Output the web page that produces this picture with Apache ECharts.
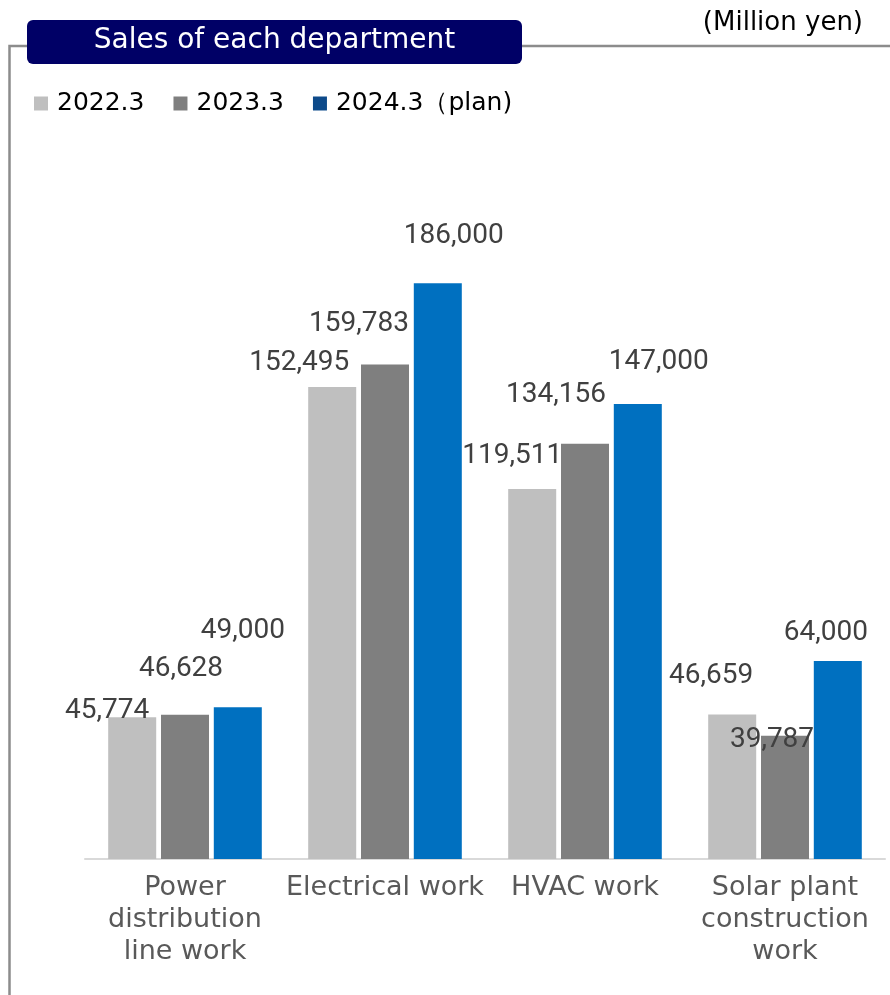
<!DOCTYPE html>
<html>
<head>
<meta charset="utf-8">
<title>Sales of each department</title>
<script src="https://cdn.jsdelivr.net/npm/echarts@6/dist/echarts.min.js"></script>
<style>
  html, body { margin: 0; padding: 0; background: #ffffff; }
  #chart { width: 890px; height: 995px; }
</style>
</head>
<body>
<div id="chart"></div>
<script>
// ---- data (million yen) ----
const categories = ['Power\ndistribution\nline work', 'Electrical work', 'HVAC work', 'Solar plant\nconstruction\nwork'];
const seriesNames = ['2022.3', '2023.3', '2024.3（plan)'];
const sales2022 = [45774, 152495, 119511, 46659];
const sales2023 = [46628, 159783, 134156, 39787];
const sales2024Plan = [49000, 186000, 147000, 64000];
const unitText = '(Million yen)';
const titleText = 'Sales of each department';

// ---- styling ----
const barColors = ['#BFBFBF', '#7F7F7F', '#0070C0'];
const legendColors = ['#BFBFBF', '#7F7F7F', '#0D4A8A'];
// hand-placed value label nudges [dx, dy] per series, per category
const labelNudge = [
  [[-25, 8], [-33, -10], [-20, -19], [-21, -25]],
  [[-4, -32], [-26, -26], [-29, -35], [-13, 18]],
  [[5, -62], [16, -33], [21, -28], [-12, -14]]
];

const valueFont = { fontFamily: 'Roboto', fontSize: 28, color: '#404040' };

function buildSeries(idx, values) {
  return {
    name: seriesNames[idx],
    type: 'bar',
    barWidth: 48,
    barGap: '10%',
    itemStyle: { color: barColors[idx] },
    z: 2,
    label: {
      show: true,
      position: 'top',
      distance: 0,
      formatter: p => p.value.toLocaleString('en-US'),
      ...valueFont
    },
    labelLayout: p => ({
      dx: labelNudge[idx][p.dataIndex][0],
      dy: labelNudge[idx][p.dataIndex][1],
      hideOverlap: false
    }),
    data: values
  };
}

const chart = echarts.init(document.getElementById('chart'), null, { renderer: 'canvas' });

chart.setOption({
  animation: false,
  backgroundColor: '#ffffff',
  grid: { left: 85, width: 800, top: 240, bottom: 136, containLabel: false },
  legend: {
    left: 29,
    top: 86,
    icon: 'rect',
    itemWidth: 14,
    itemHeight: 14,
    itemGap: 29,
    textStyle: { fontFamily: 'DejaVu Sans', fontSize: 25, color: '#000000', padding: [0, 0, 0, 4] },
    data: seriesNames.map((n, i) => ({ name: n, itemStyle: { color: legendColors[i] } }))
  },
  xAxis: {
    type: 'category',
    data: categories,
    axisLine: { show: true, lineStyle: { color: '#D9D9D9', width: 2 } },
    axisTick: { show: false },
    axisLabel: {
      interval: 0,
      margin: 13,
      fontFamily: 'DejaVu Sans',
      fontSize: 27,
      lineHeight: 32,
      color: '#595959'
    }
  },
  yAxis: {
    type: 'value',
    min: 0,
    max: 200000,
    show: false,
    splitLine: { show: false }
  },
  graphic: [
    // frame line running from the header down the left side
    {
      type: 'polyline',
      z: 0,
      shape: { points: [[27, 46], [9.5, 46], [9.5, 995]] },
      style: { stroke: '#8C8C8C', lineWidth: 2.5, fill: null }
    },
    {
      type: 'line',
      z: 0,
      shape: { x1: 522, y1: 46, x2: 890, y2: 46 },
      style: { stroke: '#8C8C8C', lineWidth: 2.5 }
    },
    // title badge
    {
      type: 'rect',
      z: 5,
      shape: { x: 27, y: 20, width: 495, height: 44, r: 6 },
      style: { fill: '#000066' }
    },
    {
      type: 'text',
      z: 6,
      x: 274.5,
      y: 41,
      style: {
        text: titleText,
        fill: '#ffffff',
        fontFamily: 'DejaVu Sans',
        fontSize: 28,
        align: 'center',
        verticalAlign: 'middle'
      }
    },
    // unit note
    {
      type: 'text',
      z: 6,
      x: 863,
      y: 23,
      style: {
        text: unitText,
        fill: '#000000',
        fontFamily: 'DejaVu Sans',
        fontSize: 26,
        align: 'right',
        verticalAlign: 'middle'
      }
    }
  ],
  series: [
    buildSeries(0, sales2022),
    buildSeries(1, sales2023),
    buildSeries(2, sales2024Plan)
  ]
});
</script>
</body>
</html>
